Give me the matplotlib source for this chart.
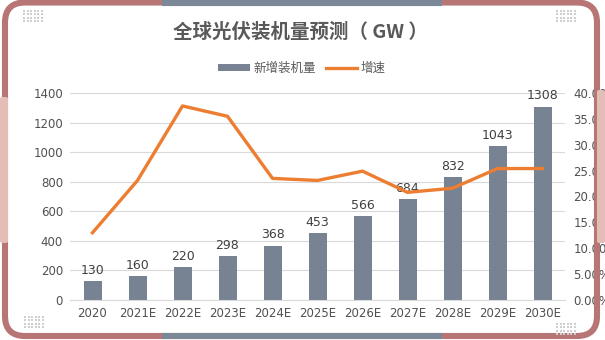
import matplotlib.pyplot as plt
from matplotlib.patches import FancyBboxPatch
from matplotlib.ticker import FuncFormatter

# data
years = ['2020', '2021E', '2022E', '2023E', '2024E', '2025E', '2026E', '2027E', '2028E', '2029E', '2030E']
installed = [130, 160, 220, 298, 368, 453, 566, 684, 832, 1043, 1308]
growth = [13.0, 23.1, 37.5, 35.5, 23.5, 23.1, 24.9, 20.8, 21.6, 25.4, 25.4]

bar_color = '#778392'
line_color = '#ED7D31'
rose = '#b87575'
slate = '#7b8898'
pink = '#e2beb7'
text_gray = '#595959'
cjk = ['Noto Sans CJK SC', 'DejaVu Sans']

fig = plt.figure(figsize=(6.05, 3.4), dpi=100)
ax = fig.add_axes([70 / 605, 1 - 300 / 340, 495 / 605, 207 / 340])

x = range(len(years))
bars = ax.bar(x, installed, width=0.4, color=bar_color, zorder=2, label='新增装机量')
for xi, v in zip(x, installed):
    ax.annotate(str(v), (xi, v), xytext=(0, 3), textcoords='offset points',
                ha='center', va='bottom', fontsize=9, color='#404040')

ax.set_xlim(-0.5, len(years) - 0.5)
ax.set_ylim(0, 1400)
ax.set_yticks(range(0, 1401, 200))
ax.set_xticks(list(x))
ax.set_xticklabels(years)
ax.grid(axis='y', color='#d9d9d9', lw=0.8, zorder=0)
ax.tick_params(length=0, labelsize=8.5, labelcolor='#505050', pad=5)
for s in ['top', 'left', 'right']:
    ax.spines[s].set_visible(False)
ax.spines['bottom'].set_color('#d9d9d9')

ax2 = ax.twinx()
line, = ax2.plot(list(x), growth, color=line_color, lw=2.4, label='增速', zorder=3)
ax2.set_ylim(0, 40)
ax2.set_yticks(range(0, 41, 5))
ax2.yaxis.set_major_formatter(FuncFormatter(lambda v, p: f'{v:.2f}%'))
ax2.tick_params(length=0, labelsize=8.5, labelcolor='#505050', pad=6)
for s in ax2.spines.values():
    s.set_visible(False)

fig.text(300 / 605, 1 - 32 / 340, '全球光伏装机量预测（ GW ）', ha='center', va='center',
         fontsize=14, fontweight='bold', color=text_gray, family=cjk)

leg = fig.legend([bars, line], ['新增装机量', '增速'], loc='center',
                 bbox_to_anchor=(302 / 605, 1 - 68 / 340), ncol=2, frameon=False,
                 prop={'family': cjk, 'size': 9}, labelcolor=text_gray,
                 handlelength=2.5, handleheight=0.5, handletextpad=0.3, columnspacing=0.8)

# decorative frame
ov = fig.add_axes([0, 0, 1, 1], zorder=10)
ov.set_xlim(0, 605)
ov.set_ylim(340, 0)
ov.axis('off')
ov.patch.set_alpha(0)
ov.add_patch(FancyBboxPatch((5, 2.5), 592, 333.5, boxstyle='round,pad=0,rounding_size=20',
                            fill=False, ec=rose, lw=4.4))
ov.plot([162, 442], [2.5, 2.5], color=slate, lw=4.4, solid_capstyle='butt')
ov.plot([162, 442], [336, 336], color=slate, lw=4.4, solid_capstyle='butt')
ov.add_patch(FancyBboxPatch((0, 97), 8, 146, boxstyle='round,pad=0,rounding_size=2', fc=pink, ec='none'))
ov.add_patch(FancyBboxPatch((597, 90), 8, 153, boxstyle='round,pad=0,rounding_size=2', fc=pink, ec='none'))

# corner dot grids
for x0, y0 in [(24, 11), (557, 11), (25, 317), (557, 324)]:
    xs = [x0 + 3.6 * i for i in range(6) for j in range(4)]
    ys = [y0 + 3.4 * j for i in range(6) for j in range(4)]
    ov.scatter(xs, ys, s=2.2, color='#cfcfcf', marker='s', lw=0)

fig.savefig('out.png', dpi=100)
